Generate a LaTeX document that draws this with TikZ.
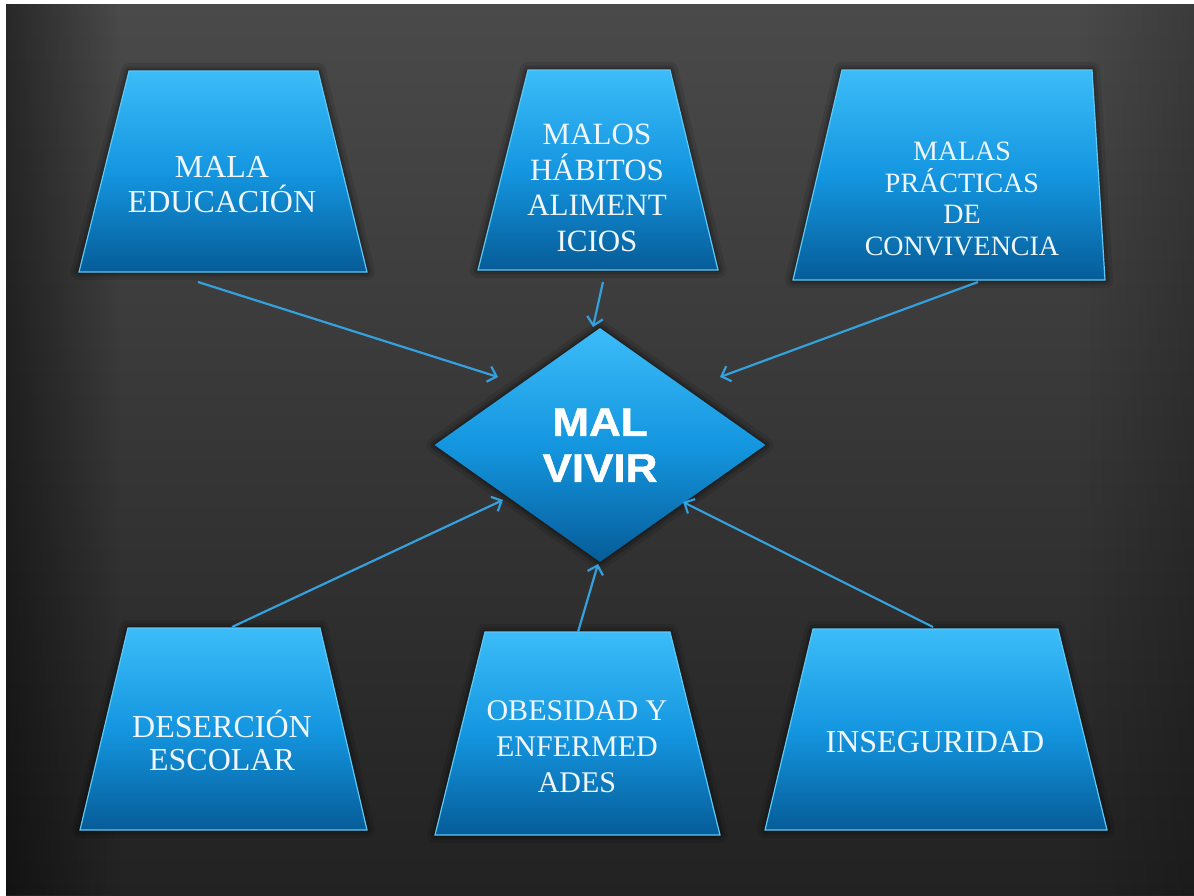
\documentclass[tikz,border=0pt]{standalone}
\usepackage{fontspec}
\setmainfont{Liberation Serif}
\newfontfamily\diafont[FakeStretch=1.1,FakeBold=1.2]{Liberation Sans}
\usetikzlibrary{arrows.meta,fadings,shapes.geometric}
\definecolor{bgtop}{RGB}{74,74,74}
\definecolor{bgbot}{RGB}{34,34,34}
\definecolor{boxtop}{RGB}{60,188,248}
\definecolor{boxmid}{RGB}{20,150,224}
\definecolor{boxbot}{RGB}{6,92,152}
\definecolor{boxline}{RGB}{95,200,245}
\definecolor{arrowc}{RGB}{52,160,222}
\definecolor{txt}{RGB}{240,246,250}
\tikzset{
  glow/.style={
    preaction={draw=black, opacity=0.10, line width=16pt, line join=round},
    preaction={draw=black, opacity=0.14, line width=9pt, line join=round},
    preaction={draw=black, opacity=0.18, line width=4pt, line join=round}},
  box/.style={glow, top color=boxtop, bottom color=boxbot, middle color=boxmid,
    draw=boxline, line width=1.2pt, line join=miter},
  lbl/.style={text=txt, align=center, inner sep=0pt},
  conn/.style={draw=arrowc, line width=2.2pt, -{Straight Barb[length=8pt,width=16pt]}}
}
\begin{document}
\begin{tikzpicture}[x=1pt,y=-1pt]
\useasboundingbox (0,0) rectangle (1194,895);
% background
\fill[white] (0,0) rectangle (1194,895);
\shade[top color=bgtop, bottom color=bgbot] (6,4) rectangle (1194,895);
\fill[black, path fading=east, opacity=0.45] (6,4) rectangle (120,895);
\fill[black, path fading=west, opacity=0.2] (1080,4) rectangle (1194,895);

% trapezoids
\path[box] (129,71) -- (318,71) -- (367,272) -- (79,272) -- cycle;
\path[box] (528,70) -- (670,70) -- (718,270) -- (478,270) -- cycle;
\path[box] (842,70) -- (1092,70) -- (1105,280) -- (793,280) -- cycle;
\path[box] (128,628) -- (320,628) -- (367,830) -- (80,830) -- cycle;
\path[box] (485,632) -- (670,632) -- (720,835) -- (435,835) -- cycle;
\path[box] (813,629) -- (1058,629) -- (1107,830) -- (765,830) -- cycle;

% texts
\node[lbl, font=\fontsize{32}{35}\selectfont] (edu) at (222,185) {MALA\\EDUCACIÓN};
\node[lbl, font=\fontsize{31}{35.7}\selectfont] (hab) at (597,188) {MALOS\\HÁBITOS\\ALIMENT\\ICIOS};
\node[lbl, font=\fontsize{28}{31.5}\selectfont] (conv) at (962,199) {MALAS\\PRÁCTICAS\\DE\\CONVIVENCIA};
\node[lbl, font=\fontsize{32}{33}\selectfont] (des) at (222,740) {DESERCIÓN\\ESCOLAR};
\node[lbl, font=\fontsize{30}{36}\selectfont] (obe) at (577,747) {OBESIDAD Y\\ENFERMED\\ADES};
\node[lbl, font=\fontsize{32}{36}\selectfont] (inse) at (935,742) {INSEGURIDAD};

% central diamond
\node[diamond, minimum width=331pt, minimum height=234pt, inner sep=0pt, glow,
  top color=boxtop, bottom color=boxbot, middle color=boxmid,
  text=white, align=center,
  font=\diafont\bfseries\fontsize{40}{46}\selectfont] (mal) at (600,445) {MAL\\VIVIR};

% arrow end points
\coordinate (s1) at (198,282);  \coordinate (e1) at (498,377);
\coordinate (s2) at (603,282);  \coordinate (e2) at (593,327);
\coordinate (s3) at (978,282);  \coordinate (e3) at (720,377);
\coordinate (s4) at (232,627);  \coordinate (e4) at (503,500);
\coordinate (s5) at (578,632);  \coordinate (e5) at (598,564);
\coordinate (s6) at (933,627);  \coordinate (e6) at (683,502);

\draw[conn] (s1) -- (e1);
\draw[conn] (s2) -- (e2);
\draw[conn] (s3) -- (e3);
\draw[conn] (s4) -- (e4);
\draw[conn] (s5) -- (e5);
\draw[conn] (s6) -- (e6);
\end{tikzpicture}
\end{document}
